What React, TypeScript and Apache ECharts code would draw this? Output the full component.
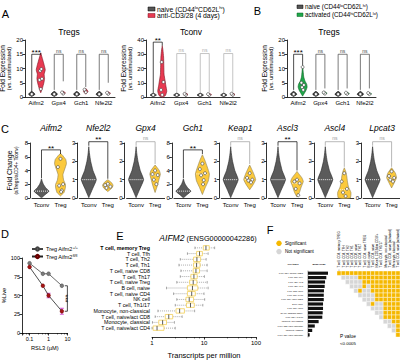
import React, { useEffect, useRef } from "react";
import * as echarts from "echarts";

const FONT = "'Liberation Sans', Arial, Helvetica, sans-serif";

/* ---------------- Panels A / B ---------------- */
const genesAB = ["Aifm2", "Gpx4", "Gch1", "Nfe2l2"];

// violin outlines: [value, relative half-width]
const naiveSmallViolin = [[0.2, 0], [0.6, 0.55], [1.0, 0.8], [1.5, 0.5], [2.0, 0]];
const aTregsNaiveViolins = [naiveSmallViolin, naiveSmallViolin, naiveSmallViolin, naiveSmallViolin];
const aTregsNaivePoints = [[1.0], [1.0], [1.0], [1.0]];
const aTregsStimViolins = [
  [[1.5, 0], [3, 0.35], [5, 0.7], [6.5, 0.85], [8, 0.75], [9.5, 1], [11, 0.8], [13, 0.45], [15.5, 0]],
  [[0.9, 0], [1.4, 0.5], [2.0, 0]],
  [[1.0, 0], [2.0, 0.5], [3.0, 0]],
  [[0.9, 0], [1.3, 0.5], [1.8, 0]],
];
const aTregsStimPoints = [[2.8, 6.0, 6.4, 9.2, 9.8], [1.2, 1.6], [1.7, 2.6], [1.1, 1.5]];
// [label, bracket top, left leg end, right leg end]
const aTregsSig: [string, number, number, number][] = [
  ["***", 15, 2, 15.3], ["ns", 15, 2.5, 5.5], ["ns", 15, 2.5, 3.5], ["ns", 15, 2.5, 5],
];

const naiveTconvViolin = [[0.3, 0], [0.9, 0.55], [1.4, 0.8], [2.0, 0.5], [2.8, 0]];
const aTconvNaiveViolins = [naiveTconvViolin, naiveTconvViolin, naiveTconvViolin, naiveTconvViolin];
const aTconvNaivePoints = [[1.4], [1.4], [1.4], [1.4]];
const aTconvStimViolins = [
  [[-0.3, 0], [1, 0.7], [4, 1], [8, 0.8], [12, 0.6], [16, 0.4], [22, 0.35], [28, 0.3], [33, 0.15], [36, 0]],
  [[0.8, 0], [1.8, 0.5], [2.8, 0]],
  [[0.8, 0], [1.7, 0.5], [2.6, 0]],
  [[0.8, 0], [1.8, 0.5], [2.8, 0]],
];
const aTconvStimPoints = [[1.5, 5, 10.5, 24.5], [1.4, 2.2], [1.3, 2.0], [1.5, 2.3]];
const aTconvSig: [string, number, number, number][] = [
  ["**", 38.5, 3, 36], ["ns", 30.5, 3, 3], ["ns", 30.5, 3, 3], ["ns", 30.5, 3, 3],
];

const bNaiveViolins = [naiveSmallViolin, naiveSmallViolin, naiveSmallViolin, naiveSmallViolin];
const bNaivePoints = [[1.0], [1.0], [1.0], [1.0]];
const bStimViolins = [
  [[0.3, 0], [1.5, 0.45], [2.5, 0.8], [3.5, 1], [4.5, 0.9], [5.5, 0.55], [7, 0.25], [9, 0.12], [11, 0]],
  [[0.9, 0], [1.3, 0.5], [1.8, 0]],
  [[0.8, 0], [1.2, 0.5], [1.7, 0]],
  [[0.8, 0], [1.1, 0.5], [1.5, 0]],
];
const bStimPoints = [[10.5, 5.0, 4.2, 3.4, 2.5], [1.2, 1.6], [1.1, 1.5], [1.0, 1.4]];
const bSig: [string, number, number, number][] = [
  ["***", 15, 2.5, 11.2], ["ns", 15, 2.5, 3], ["ns", 15, 2.5, 3], ["ns", 15, 2.5, 3],
];

/* ---------------- Panel C ---------------- */
const cGenes = ["Aifm2", "Nfe2l2", "Gpx4", "Gch1", "Keap1", "Ascl3", "Ascl4", "Lpcat3"];
const cGroups = ["Tconv", "Treg"];
const cYMax = [8, 3, 3, 8, 3, 3, 3, 3];
const cYInterval = [2, 1, 1, 2, 1, 1, 1, 1];
const cTconvViolin = [[0.02, 0], [0.5, 0.5], [1, 1], [1.5, 0.55], [2, 0.25], [2.4, 0.1], [2.8, 0]];
const cTconvMedian = 1;
const cTregViolins = [
  [[0.3, 0], [0.8, 0.5], [1.5, 0.7], [2, 0.7], [2.6, 0.45], [3.4, 0.35], [4.2, 0.6], [5, 0.85], [5.6, 0.75], [6.2, 0.3], [6.5, 0]],
  [[0.35, 0], [0.55, 0.6], [0.7, 0.75], [0.85, 0.5], [1.0, 0]],
  [[0.3, 0], [0.7, 0.35], [1.0, 0.55], [1.3, 0.75], [1.5, 0.6], [1.8, 0]],
  [[0.5, 0], [1.5, 0.4], [2.5, 0.85], [3.5, 1], [4.5, 0.7], [5.5, 0.35], [6.3, 0]],
  [[0.45, 0], [0.7, 0.45], [1.0, 0.85], [1.3, 0.6], [1.6, 0.25], [1.8, 0]],
  [[0.05, 0], [0.3, 0.35], [0.6, 0.6], [0.9, 0.9], [1.1, 0.7], [1.3, 0.3], [1.45, 0]],
  [[0.0, 0.85], [0.3, 0.95], [0.6, 0.6], [0.9, 0.45], [1.2, 0.35], [1.45, 0.2], [1.65, 0]],
  [[0.55, 0], [0.85, 0.4], [1.1, 0.7], [1.35, 0.55], [1.65, 0]],
];
const cTregPoints = [
  [5.7, 4.5, 2.0, 1.8, 1.1, 0.9],
  [0.78, 0.7, 0.62, 0.55],
  [1.5, 1.3, 1.25, 1.0, 0.75],
  [5.0, 4.2, 3.6, 3.3, 2.6, 2.0],
  [1.35, 1.1, 1.0, 0.95, 0.85],
  [1.0, 0.9, 0.8, 0.5, 0.15],
  [1.35, 0.9, 0.5, 0.3, 0.1],
  [1.45, 1.2, 1.1, 1.0, 0.9],
];
const cTregMedians = [1.9, 0.68, 1.25, 3.5, 1.0, 0.8, 0.45, 1.1];
const cSig: [string, number, number, number][] = [
  ["**", 7, 2.9, 6.4], ["**", 3.07, 2.85, 1.05], ["ns", 3.07, 2.85, 1.85], ["**", 7, 2.9, 6.4],
  ["ns", 3.07, 2.85, 1.85], ["**", 3.07, 2.85, 1.5], ["ns", 3.07, 2.85, 1.7], ["ns", 3.07, 2.85, 1.7],
];

/* ---------------- Panel D ---------------- */
const dDoses = [0.1, 0.5, 1, 5];
const dWT = [93, 79, 79, 63];
const dFl = [88, 63, 50, 29];
const dFlErr = [0, 0, 3, 4];
const dYTicks = [0, 25, 50, 75, 100];

/* ---------------- Panel E ---------------- */
const eCells = [
  "T cell, memory Treg", "T cell, Tfh", "T cell, Th2", "T cell, Th1", "T cell, naive CD8",
  "T cell, Th17", "T cell, naive Treg", "B cell, naive", "T cell, naive CD4", "NK cell",
  "T cell, Th1/17", "Monocyte, non-classical", "T cell, naive/act CD8", "Monocyte, classical", "T cell, naive/act CD4",
];
// [min, q1, median, q3, max] transcripts per million
const eBoxes = [
  [6.7, 9.7, 10.9, 12.6, 16],
  [4.8, 7.2, 8.2, 9.3, 12],
  [3.5, 6.3, 7.3, 8.6, 11],
  [3.3, 6.3, 7.2, 8.4, 11.5],
  [3.6, 6.2, 7.0, 8.2, 11.5],
  [3.5, 5.6, 6.4, 7.4, 10.2],
  [3.0, 5.3, 6.2, 7.3, 11.5],
  [1.9, 4.8, 6.0, 7.6, 12],
  [2.6, 4.8, 5.8, 6.8, 10],
  [3.0, 4.5, 5.2, 6.3, 10.3],
  [2.8, 4.6, 5.5, 6.5, 9.5],
  [1.3, 2.9, 3.4, 4.2, 6.6],
  [1.15, 1.8, 2.1, 2.5, 3.8],
  [1.02, 1.35, 1.6, 1.9, 2.7],
  [1.0, 1.05, 1.25, 1.7, 2.8],
];

/* ---------------- Panel F ---------------- */
const fCells = [
  "T cell, CD4, memory TREG", "T cell, CD4, TFH", "T cell, CD4, TH2", "T cell, CD4, TH1", "T cell, CD8, naive",
  "T cell, CD4, TH17", "T cell, CD4, naive TREG", "B cell, naive", "T cell, CD4, naive", "NK cell, CD56dim CD16+",
  "T cell, CD4, TH1/17", "Monocyte, non-classical", "T cell, CD8, naive [activated]", "Monocyte, classical", "T cell, CD4, naive [activated]",
];
const fMeanTPM = [10.9, 10, 9.3, 9.1, 8.7, 8.6, 8.6, 8.2, 8.2, 8.0, 7.8, 5.8, 3.7, 2.3, 0.9];
// row i, columns i..14 : Y = significant, N = not significant
const fSigRows = [
  "YYYYYYYYYYYYYYY",
  "NNNNYYYYYYYYYY",
  "NNNNYYYYYYYYY",
  "NNNYNYYYYYYY",
  "NYNNYYYYYYY",
  "NNNNYYYYYY",
  "NNNYYYYYY",
  "NYNNYYYY",
  "NNNYYYY",
  "NNYYYY",
  "NYYYY",
  "NNYY",
  "NNY",
  "NY",
  "Y",
];

/* ---------------- helpers ---------------- */
const AX_LINE = { show: true, lineStyle: { color: "#000", width: 0.8 } };
const AX_TICK = { show: true, length: 2.5, lineStyle: { color: "#000", width: 0.8 } };
const NO = { show: false };
const lbl = (fs: number, extra: any = {}) => ({ color: "#000", fontSize: fs, fontFamily: FONT, margin: 2, ...extra });

function widthAt(prof: number[][], v: number) {
  for (let i = 0; i < prof.length - 1; i++) {
    const [a, wa] = prof[i];
    const [b, wb] = prof[i + 1];
    if (v >= a && v <= b) return wa + ((wb - wa) * (v - a)) / (b - a || 1);
  }
  return 0;
}

function txtStyle(text: string, fontSize: number, align = "left", vAlign = "middle", extra: any = {}) {
  return {
    text, fontSize, fontFamily: FONT, fill: "#000",
    align, verticalAlign: vAlign, textAlign: align, textVerticalAlign: vAlign, ...extra,
  };
}

function violinSeries(gi: number, profiles: number[][][], cats: number[], dx: number, halfW: number,
  fill: string, stroke: string, medians?: number[]) {
  return {
    type: "custom", xAxisIndex: gi, yAxisIndex: gi, silent: true, z: 3,
    data: profiles.map((p, i) => [cats[i], p[0][0], p[p.length - 1][0]]),
    encode: { x: 0, y: [1, 2] },
    renderItem: (params: any, api: any) => {
      const prof = profiles[params.dataIndex];
      const cat = api.value(0);
      const right: number[][] = [];
      const left: number[][] = [];
      for (const [v, w] of prof) {
        const p = api.coord([cat, v]);
        right.push([p[0] + dx + w * halfW, p[1]]);
        left.unshift([p[0] + dx - w * halfW, p[1]]);
      }
      const children: any[] = [{
        type: "polygon", shape: { points: right.concat(left), smooth: 0.15 },
        style: { fill, stroke, lineWidth: 0.6 },
      }];
      if (medians) {
        const m = medians[params.dataIndex];
        const w = widthAt(prof, m) * halfW;
        const p = api.coord([cat, m]);
        children.push({
          type: "line", shape: { x1: p[0] + dx - w + 1, y1: p[1], x2: p[0] + dx + w - 1, y2: p[1] },
          style: { stroke: "#fff", lineWidth: 0.9, lineDash: [1, 1] },
        });
      }
      return { type: "group", children };
    },
  };
}

const JITTER = [0, -2, 2, -1, 1, 0.5];
function pointSeries(gi: number, pts: number[][], cats: number[], dx: number, jit: number) {
  const data: any[] = [];
  pts.forEach((arr, i) => arr.forEach((v, k) => data.push({
    value: [cats[i], v], symbolOffset: [dx + JITTER[k % JITTER.length] * jit, 0],
  })));
  return {
    type: "scatter", xAxisIndex: gi, yAxisIndex: gi, silent: true, z: 4, symbol: "circle", symbolSize: 3,
    data, itemStyle: { color: "#fff", borderColor: "#333", borderWidth: 0.6, opacity: 1 },
  };
}

function bracketSeries(gi: number, sig: [string, number, number, number][], catL: (i: number) => number,
  catR: (i: number) => number, dL: number, dR: number, colorOf: (lab: string) => string) {
  return {
    type: "custom", xAxisIndex: gi, yAxisIndex: gi, silent: true, z: 5,
    data: sig.map((s, i) => [catL(i), s[1]]),
    encode: { x: 0, y: 1 },
    renderItem: (params: any, api: any) => {
      const i = params.dataIndex;
      const [lab, top, lb, rb] = sig[i];
      const pl = api.coord([catL(i), top]);
      const pr = api.coord([catR(i), top]);
      const xl = pl[0] + dL;
      const xr = pr[0] + dR;
      const yt = pl[1];
      const yl = api.coord([catL(i), lb])[1];
      const yr = api.coord([catR(i), rb])[1];
      const col = colorOf(lab);
      const stars = lab !== "ns";
      return {
        type: "group",
        children: [
          { type: "polyline", shape: { points: [[xl, yl], [xl, yt], [xr, yt], [xr, yr]] }, style: { stroke: col, lineWidth: 0.7, fill: "none" } },
          { type: "text", x: (xl + xr) / 2, y: stars ? yt + 2.2 : yt - 1, style: txtStyle(lab, stars ? 8 : 5, "center", "bottom", { fill: col }) },
        ],
      };
    },
  };
}

function buildOption() {
  const grid: any[] = [];
  const xAxis: any[] = [];
  const yAxis: any[] = [];
  const series: any[] = [];
  const graphic: any[] = [];

  const addGrid = (g: any, x: any, y: any) => {
    const gi = grid.length;
    grid.push({ ...g, containLabel: false, outerBoundsMode: "none" });
    xAxis.push({ ...x, gridIndex: gi });
    yAxis.push({ ...y, gridIndex: gi });
    return gi;
  };
  const text = (x: number, y: number, s: string, fs: number, align = "left", extra: any = {}, rotation = 0) =>
    graphic.push({ type: "text", x, y, rotation, silent: true, style: txtStyle(s, fs, align, "middle", extra) });

  /* ---- A / B fold-expression panels ---- */
  const foldPanel = (left: number, width: number, yMax: number, yInt: number,
    naiveV: number[][][], naiveP: number[][], stimV: number[][][], stimP: number[][],
    sig: [string, number, number, number][], stimFill: string, stimStroke: string, nsColor: string) => {
    const gi = addGrid(
      { left, top: 40, width, height: 57 },
      {
        type: "category", data: genesAB, axisLine: AX_LINE, axisTick: NO,
        axisLabel: lbl(6, { margin: 3, interval: 0 }),
      },
      {
        type: "value", min: 0, max: yMax, interval: yInt, axisLine: AX_LINE, axisTick: AX_TICK,
        splitLine: NO, axisLabel: lbl(6),
        name: "{a|Fold Expression}\n{b|(vs. unstimulated)}", nameLocation: "middle", nameGap: 11, nameRotate: 90,
        nameTextStyle: {
          color: "#000",
          rich: {
            a: { fontSize: 6.5, fontFamily: FONT, color: "#000", lineHeight: 7, align: "center" },
            b: { fontSize: 5.5, fontFamily: FONT, color: "#000", lineHeight: 6.5, align: "center" },
          },
        },
      },
    );
    const cats = genesAB.map((_, i) => i);
    series.push(violinSeries(gi, naiveV, cats, -4.5, 4, "#3d3d3d", "#000"));
    series.push(violinSeries(gi, stimV, cats, 4.5, 4.5, stimFill, stimStroke));
    series.push(pointSeries(gi, naiveP, cats, -4.5, 0));
    series.push(pointSeries(gi, stimP, cats, 4.5, 0.6));
    series.push(bracketSeries(gi, sig, (i) => i, (i) => i, -4.5, 4.5, (l) => (l === "ns" ? nsColor : "#000")));
  };
  foldPanel(25, 90, 20, 5, aTregsNaiveViolins, aTregsNaivePoints, aTregsStimViolins, aTregsStimPoints, aTregsSig, "#e73a51", "#7a0f1e", "#444");
  foldPanel(146, 94, 40, 10, aTconvNaiveViolins, aTconvNaivePoints, aTconvStimViolins, aTconvStimPoints, aTconvSig, "#e73a51", "#7a0f1e", "#aaa");
  foldPanel(287, 89, 20, 5, bNaiveViolins, bNaivePoints, bStimViolins, bStimPoints, bSig, "#1fa84a", "#0b5d22", "#444");

  text(69, 32, "Tregs", 8.5, "center");
  text(191, 32, "Tconv", 8.5, "center");
  text(329, 32, "Tregs", 8.5, "center");

  // legends A / B
  const richL = (fs: number) => ({
    n: { fontSize: fs, fontFamily: FONT, fill: "#000", color: "#000" },
    s: { fontSize: fs * 0.62, fontFamily: FONT, fill: "#000", color: "#000", verticalAlign: "top" },
  });
  graphic.push({ type: "rect", shape: { x: 148, y: 7, width: 7, height: 4 }, style: { fill: "#555", stroke: "#000", lineWidth: 0.5 } });
  graphic.push({ type: "rect", shape: { x: 148, y: 13.5, width: 7, height: 4 }, style: { fill: "#e73a51", stroke: "#7a0f1e", lineWidth: 0.5 } });
  text(157, 9, "{n|naive (CD44}{s|lo}{n|CD62L}{s|hi}{n|)}", 6.8, "left", { rich: richL(6.8) });
  text(157, 15.5, "anti-CD3/28 (4 days)", 6.8);
  graphic.push({ type: "rect", shape: { x: 297, y: 5, width: 6, height: 3.5 }, style: { fill: "#555", stroke: "#000", lineWidth: 0.5 } });
  graphic.push({ type: "rect", shape: { x: 297, y: 13, width: 6, height: 3.5 }, style: { fill: "#1fa84a", stroke: "#0b5d22", lineWidth: 0.5 } });
  text(305, 6.8, "{n|naive (CD44}{s|lo}{n|CD62L}{s|hi}{n|)}", 6.3, "left", { rich: richL(6.3) });
  text(305, 14.8, "{n|activated (CD44}{s|hi}{n|CD62L}{s|lo}{n|)}", 6.3, "left", { rich: richL(6.3) });

  /* ---- C ---- */
  cGenes.forEach((g, k) => {
    const axisX = 30 + 47.3 * k;
    const gi = addGrid(
      { left: axisX + 2, top: 143, width: 38, height: 55 },
      { type: "category", data: cGroups, axisLine: AX_LINE, axisTick: NO, axisLabel: lbl(6, { margin: 4, interval: 0 }) },
      {
        type: "value", min: 0, max: cYMax[k], interval: cYInterval[k], offset: 2, axisLine: AX_LINE, axisTick: AX_TICK,
        splitLine: NO, axisLabel: lbl(6),
        ...(k === 0
          ? {
            name: "{a|Fold Change}\n{b|(aTregs/aCD4+ Tconv)}", nameLocation: "middle", nameGap: 11, nameRotate: 90,
            nameTextStyle: {
              color: "#000",
              rich: {
                a: { fontSize: 7, fontFamily: FONT, color: "#000", lineHeight: 7.5, align: "center" },
                b: { fontSize: 4.8, fontFamily: FONT, color: "#000", lineHeight: 5.5, align: "center" },
              },
            },
          }
          : {}),
      },
    );
    series.push(violinSeries(gi, [cTconvViolin], [0], 0, 7.5, "#5b5b5b", "#262626", [cTconvMedian]));
    series.push(violinSeries(gi, [cTregViolins[k]], [1], 0, 7, "#fbc93d", "#8f8050", [cTregMedians[k]]));
    series.push(pointSeries(gi, [cTregPoints[k]], [1], 0, 1.3));
    series.push(bracketSeries(gi, [cSig[k]], () => 0, () => 1, 0, 0, (l) => (l === "ns" ? "#999" : "#000")));
    text(axisX + 21, 128, g, 8.5, "center", { fontStyle: "italic" });
  });

  /* ---- D ---- */
  const gD = addGrid(
    { left: 22, top: 258, width: 45.6, height: 75 },
    {
      type: "log", min: 0.04, max: 10, axisLine: AX_LINE, axisTick: AX_TICK,
      minorTick: { show: true, splitNumber: 5, length: 1.5, lineStyle: { color: "#000", width: 0.5 } },
      splitLine: NO, minorSplitLine: NO, axisLabel: lbl(5.5, { showMinLabel: false, margin: 3 }),
      name: "RSL3 (µM)", nameLocation: "middle", nameGap: 12, nameTextStyle: { fontSize: 5.7, fontFamily: FONT, color: "#000" },
    },
    {
      type: "value", min: 0, max: 100, interval: 25, axisLine: AX_LINE, axisTick: AX_TICK, splitLine: NO,
      axisLabel: lbl(5.5, { formatter: (v: number) => (dYTicks.includes(v) ? String(v) : "") }),
      name: "%Live", nameLocation: "middle", nameGap: 14, nameRotate: 90, nameTextStyle: { fontSize: 5.7, fontFamily: FONT, color: "#000" },
    },
  );
  series.push({
    name: "wt", type: "line", xAxisIndex: gD, yAxisIndex: gD, data: dDoses.map((d, i) => [d, dWT[i]]),
    symbol: "circle", symbolSize: 3.8, lineStyle: { color: "#444", width: 0.8 }, itemStyle: { color: "#7a7a7a", borderColor: "#444", borderWidth: 0.4 }, z: 4,
  });
  series.push({
    name: "fl", type: "line", xAxisIndex: gD, yAxisIndex: gD, data: dDoses.map((d, i) => [d, dFl[i]]),
    symbol: "circle", symbolSize: 3.8, lineStyle: { color: "#222", width: 0.8 }, itemStyle: { color: "#a31515", borderColor: "#600", borderWidth: 0.4 }, z: 5,
  });
  series.push({
    type: "custom", xAxisIndex: gD, yAxisIndex: gD, silent: true, z: 4,
    data: dDoses.map((d, i) => [d, dFl[i] - dFlErr[i], dFl[i] + dFlErr[i]]).filter((r) => r[2] > r[1]),
    encode: { x: 0, y: [1, 2] },
    renderItem: (params: any, api: any) => {
      const lo = api.coord([api.value(0), api.value(1)]);
      const hi = api.coord([api.value(0), api.value(2)]);
      const st = { stroke: "#cc33cc", lineWidth: 0.8 };
      return {
        type: "group", children: [
          { type: "line", shape: { x1: lo[0], y1: lo[1], x2: hi[0], y2: hi[1] }, style: st },
          { type: "line", shape: { x1: lo[0] - 2, y1: lo[1], x2: lo[0] + 2, y2: lo[1] }, style: st },
          { type: "line", shape: { x1: hi[0] - 2, y1: hi[1], x2: hi[0] + 2, y2: hi[1] }, style: st },
        ],
      };
    },
  });
  series.push({
    type: "custom", xAxisIndex: gD, yAxisIndex: gD, silent: true, z: 5,
    data: [[dDoses[3], dWT[3], dFl[3]]],
    encode: { x: 0, y: [1, 2] },
    renderItem: (params: any, api: any) => {
      const a = api.coord([api.value(0), api.value(1)]);
      const b = api.coord([api.value(0), api.value(2)]);
      const x = a[0] + 5.5;
      return {
        type: "group", children: [
          { type: "polyline", shape: { points: [[x - 2.5, a[1]], [x, a[1]], [x, b[1]], [x - 2.5, b[1]]] }, style: { stroke: "#000", lineWidth: 0.7, fill: "none" } },
          { type: "text", x: x + 1.5, y: (a[1] + b[1]) / 2, rotation: -Math.PI / 2, style: txtStyle("***", 7, "center", "top") },
        ],
      };
    },
  });

  /* ---- E ---- */
  const gE = addGrid(
    { left: 152, top: 245, width: 104, height: 86 },
    {
      type: "log", min: 1, max: 100, offset: 6, axisLine: AX_LINE, axisTick: AX_TICK,
      minorTick: { show: true, splitNumber: 5, length: 1.5, lineStyle: { color: "#000", width: 0.5 } },
      splitLine: NO, minorSplitLine: NO, axisLabel: lbl(6, { margin: 3 }),
      name: "Transcripts per million", nameLocation: "middle", nameGap: 14, nameTextStyle: { fontSize: 7.5, fontFamily: FONT, color: "#000" },
    },
    {
      type: "category", data: eCells, inverse: true, axisLine: NO, axisTick: NO,
      axisLabel: lbl(5.3, {
        interval: 0, margin: 2,
        formatter: (v: string, i: number) => (i === 0 ? `{b|${v}}` : v),
        rich: { b: { fontSize: 5.3, fontWeight: "bold", fontFamily: FONT, color: "#000" } },
      }),
    },
  );
  series.push({
    type: "custom", xAxisIndex: gE, yAxisIndex: gE, silent: true, z: 4,
    data: eBoxes.map((b, i) => [b[0], b[4], i]),
    encode: { x: [0, 1], y: 2 },
    renderItem: (params: any, api: any) => {
      const r = params.dataIndex;
      const [mn, q1, md, q3, mx] = eBoxes[r];
      const X = (v: number) => api.coord([v, r])[0];
      const y = api.coord([mn, r])[1];
      const h = 4.4;
      const dash = { stroke: "#8a8a8a", lineWidth: 0.7, lineDash: [1, 1] };
      const cap = { stroke: "#8a8a8a", lineWidth: 0.7 };
      return {
        type: "group", children: [
          { type: "line", shape: { x1: X(mn), y1: y, x2: X(q1), y2: y }, style: dash },
          { type: "line", shape: { x1: X(q3), y1: y, x2: X(mx), y2: y }, style: dash },
          { type: "line", shape: { x1: X(mn), y1: y - 1.3, x2: X(mn), y2: y + 1.3 }, style: cap },
          { type: "line", shape: { x1: X(mx), y1: y - 1.3, x2: X(mx), y2: y + 1.3 }, style: cap },
          { type: "rect", shape: { x: X(q1), y: y - h / 2, width: X(q3) - X(q1), height: h }, style: { fill: "#fff", stroke: "#f2cf55", lineWidth: 0.8 } },
          { type: "line", shape: { x1: X(md), y1: y - h / 2, x2: X(md), y2: y + h / 2 }, style: { stroke: "#333", lineWidth: 0.8 } },
        ],
      };
    },
  });
  text(208, 238, "{i|AIFM2} {n|(ENSG00000042286)}", 7.5, "center", {
    rich: {
      i: { fontSize: 8.5, fontStyle: "italic", fontFamily: FONT, fill: "#000", color: "#000" },
      n: { fontSize: 7.3, fontFamily: FONT, fill: "#000", color: "#000" },
    },
  });

  /* ---- F ---- */
  const gF1 = addGrid(
    { left: 308, top: 271, width: 22, height: 66 },
    { type: "value", min: 0, max: 12, show: false, splitLine: NO },
    {
      type: "category", data: fCells, inverse: true, offset: 3,
      axisLine: { show: true, lineStyle: { color: "#000", width: 0.4 } }, axisTick: NO,
      axisLabel: lbl(2, { interval: 0, margin: 2 }),
    },
  );
  series.push({
    type: "bar", xAxisIndex: gF1, yAxisIndex: gF1, data: fMeanTPM, barWidth: "72%",
    itemStyle: { color: "#111" }, silent: true,
  });
  const F2_LEFT = 337;
  const F2_W = 63;
  const gF2 = addGrid(
    { left: F2_LEFT, top: 271, width: F2_W, height: 66 },
    {
      type: "category", data: fCells, position: "top", axisLine: NO,
      axisTick: { show: true, length: 1.5, alignWithLabel: true, lineStyle: { color: "#000", width: 0.3 } },
      axisLabel: { show: false },
    },
    { type: "category", data: fCells, inverse: true, show: false },
  );
  // rotated column labels
  const colW = F2_W / fCells.length;
  fCells.forEach((c, j) => {
    graphic.push({
      type: "text", x: F2_LEFT + colW * (j + 0.5), y: 267.5, rotation: Math.PI / 2, silent: true,
      style: txtStyle(c, 3, "left", "middle"),
    });
  });
  const cells: number[][] = [];
  fSigRows.forEach((row, i) => row.split("").forEach((c, k) => cells.push([i + k, i, c === "Y" ? 1 : 0])));
  series.push({
    type: "custom", xAxisIndex: gF2, yAxisIndex: gF2, silent: true, data: cells, encode: { x: 0, y: 1 },
    renderItem: (params: any, api: any) => {
      const p = api.coord([api.value(0), api.value(1)]);
      const s = api.size([1, 1]);
      return {
        type: "rect", shape: { x: p[0] - s[0] / 2, y: p[1] - s[1] / 2, width: s[0], height: s[1] },
        style: { fill: api.value(2) ? "#f5b800" : "#d6d6d6", stroke: "#fff", lineWidth: 0.4 },
      };
    },
  });
  graphic.push({ type: "circle", shape: { cx: 279, cy: 243.3, r: 2.7 }, style: { fill: "#f5b800" } });
  graphic.push({ type: "circle", shape: { cx: 279, cy: 251.6, r: 2.7 }, style: { fill: "#d6d6d6" } });
  text(285, 243.3, "Significant", 4.6);
  text(285, 251.6, "Not significant", 4.6);
  text(293, 264, "Cell types", 2.3, "center", { fontWeight: "bold" });
  text(319, 264, "Mean (TPM)", 2.3, "center", { fontWeight: "bold" });
  text(340, 336, "P value", 4.8);
  text(340, 343.5, "<0.0005", 4.4);

  /* ---- panel letters ---- */
  const letters: [string, number, number][] = [["A", 5.5, 14], ["B", 257.5, 11], ["C", 5, 129], ["D", 5, 234], ["E", 120, 236], ["F", 270, 230]];
  letters.forEach(([l, x, y]) => text(x, y, l, 11, "center"));

  return {
    animation: false,
    backgroundColor: "#fff",
    textStyle: { fontFamily: FONT },
    grid, xAxis, yAxis, series, graphic,
    legend: {
      left: 26, top: 241, orient: "vertical", itemWidth: 11, itemHeight: 4, itemGap: 1.5,
      data: ["wt", "fl"],
      formatter: (n: string) => (n === "wt" ? "{n|Treg Aifm2}{s|+/+}" : "{n|Treg Aifm2}{s|fl/fl}"),
      textStyle: {
        fontSize: 5.5, fontFamily: FONT, color: "#000", padding: [0, 0, 0, -2],
        rich: {
          n: { fontSize: 5.5, fontFamily: FONT, color: "#000" },
          s: { fontSize: 3.6, fontFamily: FONT, color: "#000", verticalAlign: "top" },
        },
      },
    },
  };
}

export default function App() {
  const ref = useRef<HTMLDivElement>(null);
  useEffect(() => {
    if (!ref.current) return;
    const chart = echarts.init(ref.current, null, { renderer: "svg", width: 400, height: 360 });
    chart.setOption(buildOption() as any);
    return () => chart.dispose();
  }, []);
  return (
    <div
      ref={ref}
      style={{ position: "absolute", left: 0, top: 0, width: 400, height: 360, background: "#fff" }}
    />
  );
}
